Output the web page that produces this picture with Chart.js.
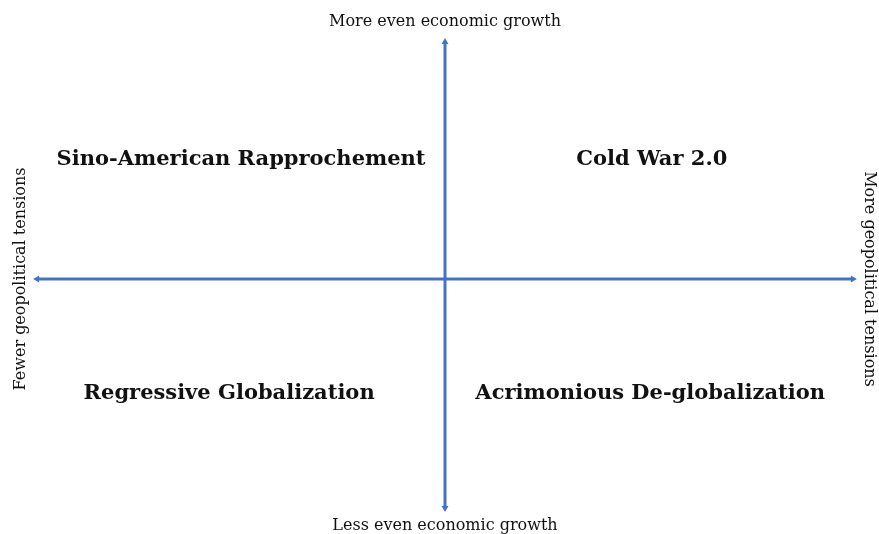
<!DOCTYPE html>
<html>
<head>
<meta charset="utf-8">
<script src="https://cdn.jsdelivr.net/npm/chart.js@4"></script>
<style>
  html, body { margin: 0; padding: 0; background: #fff; }
  #wrap { width: 879px; height: 534px; }
</style>
</head>
<body>
<div id="wrap"><canvas id="quad"></canvas></div>
<script>
// 象限标签
const quadrantLabels = ['Sino-American Rapprochement', 'Cold War 2.0', 'Regressive Globalization', 'Acrimonious De-globalization'];
const quadrantX = [-0.495, 0.502, -0.524, 0.498];
const quadrantY = [0.494, 0.494, -0.477, -0.477];

// 坐标轴说明
const axisTitles = ['More even economic growth', 'Less even economic growth', 'Fewer geopolitical tensions', 'More geopolitical tensions'];
const axisTitleX = [0, 0, -1.03, 1.03];
const axisTitleY = [1.066, -1.025, 0, 0];
const axisTitleRot = [0, 0, -90, 90];

// 轴线端点
const hAxisX = [-0.99, 0.99];
const vAxisY = [0.983, -0.95];

const blue = '#4472C4';

const textPlugin = {
    id: 'quadText',
    afterDatasetsDraw(chart) {
        const { ctx, scales } = chart;
        ctx.save();
        ctx.fillStyle = '#111';
        ctx.textAlign = 'center';
        ctx.textBaseline = 'middle';

        ctx.font = 'bold 21px "DejaVu Serif"';
        quadrantLabels.forEach((t, i) => {
            ctx.fillText(t, scales.x.getPixelForValue(quadrantX[i]), scales.y.getPixelForValue(quadrantY[i]));
        });

        ctx.font = '16px "DejaVu Serif"';
        axisTitles.forEach((t, i) => {
            ctx.save();
            ctx.translate(scales.x.getPixelForValue(axisTitleX[i]), scales.y.getPixelForValue(axisTitleY[i]));
            ctx.rotate(axisTitleRot[i] * Math.PI / 180);
            ctx.fillText(t, 0, 0);
            ctx.restore();
        });
        ctx.restore();
    }
};

new Chart(document.getElementById('quad'), {
    type: 'scatter',
    data: {
        datasets: [
            {
                data: hAxisX.map(x => ({ x: x, y: 0 })),
                showLine: true,
                borderColor: blue,
                backgroundColor: blue,
                borderWidth: 3,
                pointStyle: 'triangle',
                pointRadius: 4,
                pointRotation: [270, 90],
                pointBorderWidth: 0
            },
            {
                data: vAxisY.map(y => ({ x: 0, y: y })),
                showLine: true,
                borderColor: blue,
                backgroundColor: blue,
                borderWidth: 3,
                pointStyle: 'triangle',
                pointRadius: 4,
                pointRotation: [0, 180],
                pointBorderWidth: 0
            }
        ]
    },
    options: {
        responsive: true,
        maintainAspectRatio: false,
        animation: false,
        layout: { padding: { left: 33, right: 22, top: 38, bottom: 22 } },
        plugins: { legend: { display: false }, tooltip: { enabled: false } },
        scales: {
            x: { type: 'linear', min: -1, max: 1, display: false },
            y: { type: 'linear', min: -0.967, max: 1, display: false }
        },
        clip: false
    },
    plugins: [textPlugin]
});
</script>
</body>
</html>
